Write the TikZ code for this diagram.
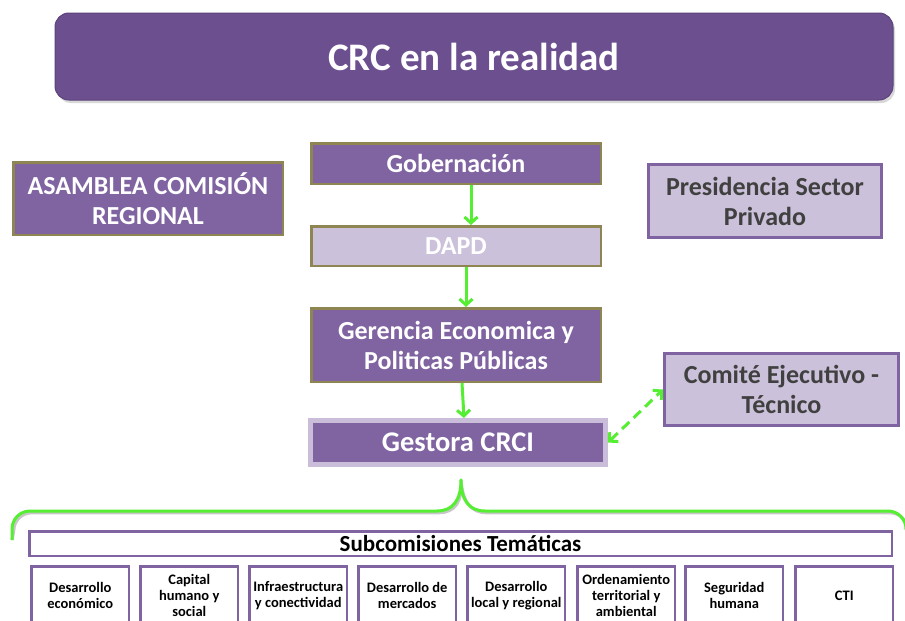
\documentclass[tikz,border=0pt]{standalone}
\usepackage{fontspec}
\setmainfont{Carlito}
\usetikzlibrary{arrows.meta,calc}
\definecolor{pfill}{HTML}{8064A2}
\definecolor{tfill}{HTML}{6C4F8F}
\definecolor{olive}{HTML}{8F8552}
\definecolor{lav}{HTML}{CCC1DA}
\definecolor{lavb}{HTML}{C9BDD9}
\definecolor{grn}{HTML}{55EE33}
\definecolor{dgray}{HTML}{404040}
\tikzset{
  purplebox/.style={draw=olive, fill=pfill, line width=2.5pt, text=white, font=\bfseries\fontsize{26}{30}\selectfont, align=center, inner sep=0pt},
  lavbox/.style={draw=olive, fill=lav, line width=2.5pt, text=white, font=\bfseries\fontsize{26}{30}\selectfont, align=center, inner sep=0pt},
  lavpurp/.style={draw=pfill, fill=lav, line width=3pt, text=dgray, font=\bfseries\fontsize{26}{30}\selectfont, align=center, inner sep=0pt},
  subbox/.style={draw=pfill, fill=white, line width=2.5pt, inner sep=0pt, minimum width=97.5pt, minimum height=80pt},
  subtext/.style={text=black, font=\bfseries\fontsize{14.5}{15.8}\selectfont, align=center, inner sep=0pt},
  flow/.style={draw=grn, line width=3pt, -{Straight Barb[length=6pt,width=13pt,line width=3pt]}},
  dflow/.style={draw=grn, line width=3pt, dash pattern=on 10pt off 6pt, {Straight Barb[length=6pt,width=13pt,line width=3pt]}-{Straight Barb[length=6pt,width=13pt,line width=3pt]}},
}
\begin{document}
\begin{tikzpicture}[x=1pt,y=-1pt]
\useasboundingbox (0,0) rectangle (905,621);
\clip (0,0) rectangle (905,621);
\fill[white] (0,0) rectangle (905,621);

% title
\fill[black!30, opacity=0.5, rounded corners=14pt] (57,16) rectangle (895,103);
\node[fill=tfill, draw=tfill!85!black, line width=1pt, rounded corners=14pt, minimum width=838pt, minimum height=87pt, inner sep=0pt, text=white, font=\bfseries\fontsize{39}{44}\selectfont] (title) at (474,56.5) {CRC en la realidad};

% left & right boxes
\node[purplebox, minimum width=269.5pt, minimum height=72.5pt] (asam) at (148,198.5) {ASAMBLEA COMISIÓN\\REGIONAL};
\node[lavpurp, minimum width=233pt, minimum height=73pt] (pres) at (765,201) {Presidencia Sector\\Privado};

% central chain
\node[purplebox, minimum width=289.5pt, minimum height=40.5pt] (gob) at (456,163.5) {Gobernación};
\node[lavbox, minimum width=289.5pt, minimum height=39.5pt] (dapd) at (456,246) {DAPD};
\node[purplebox, minimum width=289.5pt, minimum height=73.5pt] (ger) at (456,345) {Gerencia Economica y\\Politicas Públicas};
\node[purplebox, draw=lavb, line width=5pt, minimum width=295pt, minimum height=44pt, font=\bfseries\fontsize{28.5}{32}\selectfont] (gest) at (458,442.5) {Gestora CRCI};
\node[lavpurp, minimum width=234pt, minimum height=72pt] (com) at (781.5,389.5) {Comité Ejecutivo -\\Técnico};

\draw[flow] ([xshift=15pt]gob.south) -- ([xshift=15pt]dapd.north);
\draw[flow] ([xshift=10pt]dapd.south) -- ([xshift=10pt]ger.north);
\draw[flow] ([xshift=6pt]ger.south) -- ([xshift=6pt]gest.north);
\draw[dflow] (gest.east) -- (com.west);

% brace
\coordinate (bl) at (12,540);
\coordinate (tip) at (461,480);
\coordinate (br) at (912,540);
\foreach \c/\o in {black!22/1.8, grn/0}{
\draw[\c, line width=3pt, line join=round, xshift=\o pt, yshift=-\o pt]
  (bl) -- (12,529) arc[start angle=180, end angle=90, radius=18pt] -- (437,511)
  .. controls (453,511) and (461,500) .. (tip)
  .. controls (461,500) and (469,511) .. (485,511)
  -- (888,511) arc[start angle=90, end angle=0, radius=18pt] -- (br);
}

% subcommissions
\node[draw=pfill, fill=white, line width=2.5pt, minimum width=862.5pt, minimum height=24.5pt, inner sep=0pt, font=\bfseries\fontsize{23}{26}\selectfont] (sub) at (460.5,543.5) {Subcomisiones Temáticas};

\foreach \i/\x/\t in {1/29/{Desarrollo\\económico},
                      2/138/{Capital\\humano y\\social},
                      3/247/{Infraestructura\\y conectividad},
                      4/356/{Desarrollo de\\mercados},
                      5/465/{Desarrollo\\local y regional},
                      6/575/{Ordenamiento\\territorial y\\ambiental},
                      7/683/{Seguridad\\humana},
                      8/793/{CTI}}{
  \node[subbox, anchor=north west] (s\i) at (\x+1.25,565.25) {};
  \node[subtext] (t\i) at ($(s\i.north)+(0,30.5)$) {\t};
}
\end{tikzpicture}
\end{document}
